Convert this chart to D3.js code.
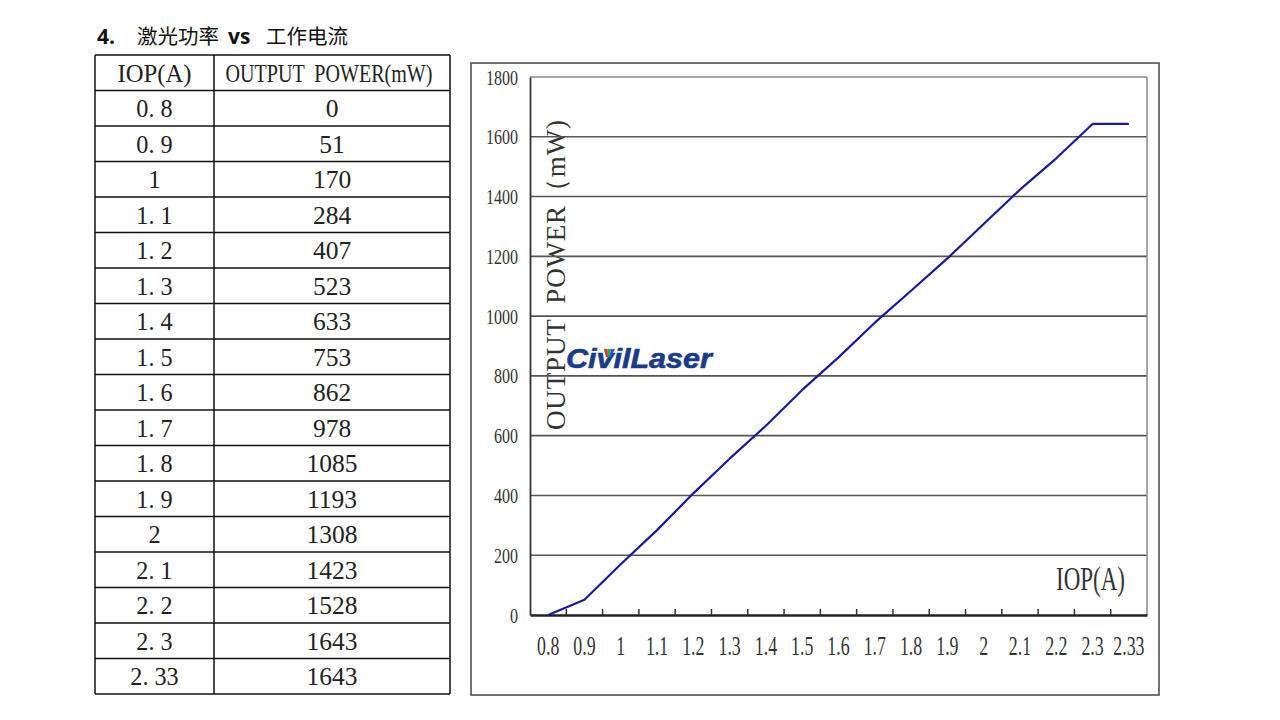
<!DOCTYPE html>
<html><head><meta charset="utf-8">
<script src="https://cdn.jsdelivr.net/npm/d3@7"></script>
<style>html,body{margin:0;padding:0;background:#fff;}svg{display:block;}</style>
</head><body>
<svg id="c" width="1280" height="720"></svg>
<script>
const categories = ["0.8","0.9","1","1.1","1.2","1.3","1.4","1.5","1.6","1.7","1.8","1.9","2","2.1","2.2","2.3","2.33"];
const powerValues = [0,51,170,284,407,523,633,753,862,978,1085,1193,1308,1423,1528,1643,1643];
const yTickValues = [0,200,400,600,800,1000,1200,1400,1600,1800];
const tableHeaders = ["IOP(A)", "OUTPUT  POWER(mW)"];
const titleParts = [{t:"4.", b:true, x:97},{t:"激光功率", b:false, x:137},{t:"vs", b:true, x:228},{t:"工作电流", b:false, x:266}];

const svg = d3.select("#c");
const serif = "'Liberation Serif','DejaVu Serif',serif";

// horizontally squeeze a text around its anchor point using a transform
function squeeze(sel, f, targetW){
  sel.each(function(){
    const el = d3.select(this);
    const X = +el.attr("x") || 0, Y = +el.attr("y") || 0;
    const w = this.getComputedTextLength();
    const s = targetW ? targetW / w : f;
    const prev = el.attr("transform") || "";
    el.attr("x", 0).attr("y", 0)
      .attr("transform", `${prev} translate(${X},${Y}) scale(${s},1)`);
  });
  return sel;
}

// ---- Title ----
const title = svg.append("text").attr("y",44).attr("fill","#111");
titleParts.forEach(p=>{
  title.append("tspan").text(p.t).attr("x", p.x)
    .attr("font-weight", p.b ? 700 : 400)
    .attr("font-size", p.b ? 21 : 20.5)
    .attr("font-family", p.b ? "'Open Sans',sans-serif" : "'Noto Sans CJK SC',sans-serif");
});

// ---- Table ----
const tX = [95, 214, 450];
const tTop = 55, rowH = 35.5;
const nRows = categories.length + 1;
const tbl = svg.append("g");
const tableRows = [tableHeaders].concat(categories.map((c,i)=>[c.replace(".", ". "), String(powerValues[i])]));
d3.range(nRows+1).forEach(i=>{
  tbl.append("line").attr("x1",tX[0]).attr("x2",tX[2])
    .attr("y1",tTop+i*rowH).attr("y2",tTop+i*rowH)
    .attr("stroke","#111").attr("stroke-width",1.5);
});
tX.forEach(x=>{
  tbl.append("line").attr("x1",x).attr("x2",x).attr("y1",tTop).attr("y2",tTop+nRows*rowH)
    .attr("stroke","#111").attr("stroke-width",1.5);
});
const headerWidths = [74, 207];
tableRows.forEach((r,i)=>{
  const cy = tTop + i*rowH + rowH/2;
  r.forEach((txt,j)=>{
    const cx = (tX[j]+tX[j+1])/2 + (j===1 && i===0 ? -3 : 0);
    const t = tbl.append("text").attr("x",cx).attr("y",cy+9)
      .attr("text-anchor","middle").attr("font-family",serif)
      .attr("font-size", i===0 ? 26 : 25.5).attr("fill","#222")
      .attr("xml:space","preserve").text(txt);
    if(i===0) squeeze(t, null, headerWidths[j]);
    else if (j===0) squeeze(t, 0.95);
  });
});

// ---- Chart ----
const frame = {x0:471, y0:63, x1:1159, y1:695};
svg.append("rect").attr("x",frame.x0).attr("y",frame.y0)
  .attr("width",frame.x1-frame.x0).attr("height",frame.y1-frame.y0)
  .attr("fill","none").attr("stroke","#444").attr("stroke-width",1.5);

const plot = {l:530, r:1147, t:77, b:615};
const x = d3.scaleBand().domain(categories).range([plot.l, plot.r]).padding(0);
const y = d3.scaleLinear().domain([0,1800]).range([plot.b, plot.t]);
const cx = d => x(d) + x.bandwidth()/2;

// y-axis title
const yt = svg.append("text")
  .attr("transform",`translate(${565},${275}) rotate(-90)`)
  .attr("text-anchor","middle").attr("font-family",serif)
  .attr("font-size",27).attr("fill","#333")
  .attr("xml:space","preserve")
  .text("OUTPUT  POWER（mW)");
yt.attr("textLength",310).attr("lengthAdjust","spacing");

// watermark
const wm = svg.append("g");
const wmt = wm.append("text").attr("x",566).attr("y",368)
  .attr("font-family","'Liberation Sans',Arial,sans-serif")
  .attr("font-weight",700).attr("font-style","italic")
  .attr("font-size",27).attr("fill","#1a3b8b")
  .attr("stroke","#1a3b8b").attr("stroke-width",0.6)
  .text("CivilLaser");
squeeze(wmt, null, 146);
wm.append("polygon").attr("points","604,349 607.5,349 608,357 606,357").attr("fill","#e02a2a");
wm.append("polygon").attr("points","607.5,349 611,349 609.5,357 608,357").attr("fill","#22b04a");
wm.append("polygon").attr("points","611,349 615,349 611,357 609.5,357").attr("fill","#2a5ae0");

// gridlines
svg.append("g").selectAll("line").data(yTickValues.filter(v=>v>0 && v<1800)).join("line")
  .attr("x1",plot.l).attr("x2",plot.r).attr("y1",d=>y(d)).attr("y2",d=>y(d))
  .attr("stroke","#555").attr("stroke-width",1.6);
svg.append("line").attr("x1",plot.l).attr("x2",plot.r).attr("y1",y(1800)).attr("y2",y(1800))
  .attr("stroke","#888").attr("stroke-width",1.5);
svg.append("line").attr("x1",plot.r).attr("x2",plot.r).attr("y1",plot.t).attr("y2",plot.b)
  .attr("stroke","#888").attr("stroke-width",1.5);

// y axis
const yAxis = d3.axisLeft(y).tickValues(yTickValues).tickSize(0).tickPadding(12).tickFormat(d3.format("d"));
const ya = svg.append("g").attr("transform",`translate(${plot.l},0)`).call(yAxis);
ya.select(".domain").attr("stroke","#333").attr("stroke-width",1.8);
ya.selectAll("text").attr("font-family",serif).attr("font-size",20).attr("fill","#333")
  .attr("dy","0.35em");
squeeze(ya.selectAll("text"), 0.8);

// x axis
const xAxis = d3.axisBottom(x).tickSize(0).tickPadding(21);
const xa = svg.append("g").attr("transform",`translate(0,${plot.b})`).call(xAxis);
xa.select(".domain").attr("stroke","#222").attr("stroke-width",2.5);
xa.selectAll("text").attr("font-family",serif).attr("font-size",27).attr("fill","#333");
squeeze(xa.selectAll("text"), 0.66);
svg.append("g").selectAll("line").data(categories.slice(1)).join("line")
  .attr("x1",d=>x(d)).attr("x2",d=>x(d)).attr("y1",plot.b).attr("y2",plot.b-6)
  .attr("stroke","#333").attr("stroke-width",1.5);

// IOP(A) label
const iop = svg.append("text").attr("x",1125).attr("y",590).attr("text-anchor","end")
  .attr("font-family",serif).attr("font-size",34).attr("fill","#333").text("IOP(A)");
squeeze(iop, null, 69);

// line
const line = d3.line().x((d,i)=>cx(categories[i])).y(d=>y(d));
svg.append("path").datum(powerValues).attr("d",line)
  .attr("fill","none").attr("stroke","#1a1a9c").attr("stroke-width",2.2)
  .attr("stroke-linejoin","round");
</script>
</body></html>
